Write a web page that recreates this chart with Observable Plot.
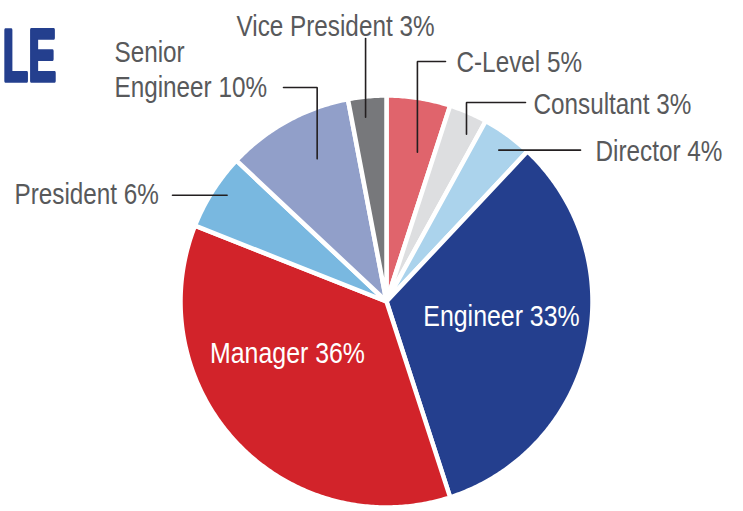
<!DOCTYPE html>
<html>
<head>
<meta charset="utf-8">
<script src="https://cdn.jsdelivr.net/npm/d3@7"></script>
<script src="https://cdn.jsdelivr.net/npm/@observablehq/plot@0.6"></script>
<style>
  body { margin: 0; background: #fff; }
  #chart { width: 743px; height: 511px; overflow: hidden; }
</style>
</head>
<body>
<div id="chart"></div>
<script>
// ---- Data ----
const roles  = ["C-Level", "Consultant", "Director", "Engineer", "Manager", "President", "Senior Engineer", "Vice President"];
const shares = [5, 3, 4, 33, 36, 6, 10, 3];
const labels = ["C-Level 5%", "Consultant 3%", "Director 4%", "Engineer 33%", "Manager 36%", "President 6%", "Senior\nEngineer 10%", "Vice President 3%"];
const colors = ["#e0646c", "#dddee0", "#abd3ec", "#243f8e", "#d2232a", "#79b8e0", "#919fc9", "#77787b"];
const titleText = "LE";

// ---- Layout (pixels) ----
const W = 743, H = 511, CX = 386, CY = 301, R = 206;
// leader: at = fraction along slice, r = fraction of radius, bend = elbow y, end = end x; tx/ty = text start & baseline
const external = {
  "C-Level":         {at: 0.65, r: 0.74, bend: 61,  end: 445,  tx: 456, ty: 71},
  "Consultant":      {at: 0.70, r: 0.90, bend: 102, end: 525,  tx: 533, ty: 113},
  "Director":        {at: 0.54, r: 0.915, bend: null, end: 580, tx: 595, ty: 160},
  "President":       {at: 0.56, r: 0.93, bend: null, end: 172, tx: 14,  ty: 203},
  "Senior Engineer": {at: 0.58, r: 0.77, bend: 87,  end: 283,  tx: 114, ty: 96},
  "Vice President":  {at: 0.40, r: 0.90, bend: 38,  end: null, tx: 236, ty: 35}
};
const internal = {
  "Engineer": {tx: 501, ty: 325},
  "Manager":  {tx: 287, ty: 362}
};

const px2x = (px) => (px - CX) / R;
const py2y = (py) => (CY - py) / R;

const table = roles.map((role, i) => ({role, share: shares[i], label: labels[i], color: colors[i]}));
const arcs = d3.pie().sort(null).value(d => d.share).startAngle(0).endAngle(2 * Math.PI)(table);

// slice polygons (unit radius)
const slicePts = [];
arcs.forEach(a => {
  const role = a.data.role;
  slicePts.push({role, x: 0, y: 0});
  const n = Math.max(4, Math.ceil((a.endAngle - a.startAngle) / 0.01));
  for (let k = 0; k <= n; k++) {
    const t = a.startAngle + (a.endAngle - a.startAngle) * k / n;
    slicePts.push({role, x: Math.sin(t), y: Math.cos(t)});
  }
  slicePts.push({role, x: 0, y: 0});
});

// leader lines
const leaderPts = [];
const extLabels = [];
arcs.forEach(a => {
  const role = a.data.role;
  const L = external[role];
  if (!L) return;
  const t = a.startAngle + (a.endAngle - a.startAngle) * L.at;
  let x = L.r * Math.sin(t), y = L.r * Math.cos(t);
  leaderPts.push({role, x, y});
  if (L.bend != null) { y = py2y(L.bend); leaderPts.push({role, x, y}); }
  if (L.end != null) { x = px2x(L.end); leaderPts.push({role, x, y}); }
  extLabels.push({role, label: a.data.label, x: px2x(L.tx), y: py2y(L.ty)});
});
const intLabels = arcs.filter(a => internal[a.data.role]).map(a => ({
  role: a.data.role, label: a.data.label,
  x: px2x(internal[a.data.role].tx), y: py2y(internal[a.data.role].ty)
}));

const font = "'Liberation Sans', Arial, sans-serif";

const chart = Plot.plot({
  width: W, height: H,
  margin: 0,
  style: {background: "#fff", fontFamily: font},
  x: {domain: [px2x(0), px2x(W)], axis: null},
  y: {domain: [py2y(H), py2y(0)], axis: null},
  color: {domain: roles, range: colors},
  marks: [
    Plot.line(slicePts, {x: "x", y: "y", z: "role", fill: "role", stroke: "#fff", strokeWidth: 4.5, strokeLinejoin: "round", curve: "linear"}),
    Plot.line(leaderPts, {x: "x", y: "y", z: "role", stroke: "#231f20", strokeWidth: 1.6, strokeLinejoin: "miter"}),
    Plot.text(extLabels, {x: "x", y: "y", text: "label", textAnchor: "start", lineAnchor: "bottom", lineHeight: 1.15, fontSize: 30, fill: "#58595b"}),
    Plot.text(intLabels, {x: "x", y: "y", text: "label", textAnchor: "middle", lineAnchor: "bottom", fontSize: 30, fill: "#fff"}),
    Plot.text([titleText], {x: px2x(56), y: py2y(80), text: d => d, textAnchor: "end", lineAnchor: "bottom", fontSize: 74, fontWeight: 900, fill: "#243f8e", stroke: "#243f8e", strokeWidth: 3.5})
  ]
});

// condense the glyphs horizontally (no condensed font is installed)
const groups = chart.querySelectorAll('g[aria-label="text"]');
groups.forEach((g, gi) => {
  const s = gi === groups.length - 1 ? 0.57 : (gi === 1 ? 0.83 : 0.81);
  g.querySelectorAll("text").forEach(t => {
    const tr = t.getAttribute("transform");
    if (tr) {
      t.setAttribute("transform", tr + ` scale(${s},1)`);
    } else {
      const ax = +t.getAttribute("x") || 0;
      t.setAttribute("transform", `translate(${ax},0) scale(${s},1) translate(${-ax},0)`);
    }
  });
});
document.getElementById("chart").appendChild(chart);
</script>
</body>
</html>
